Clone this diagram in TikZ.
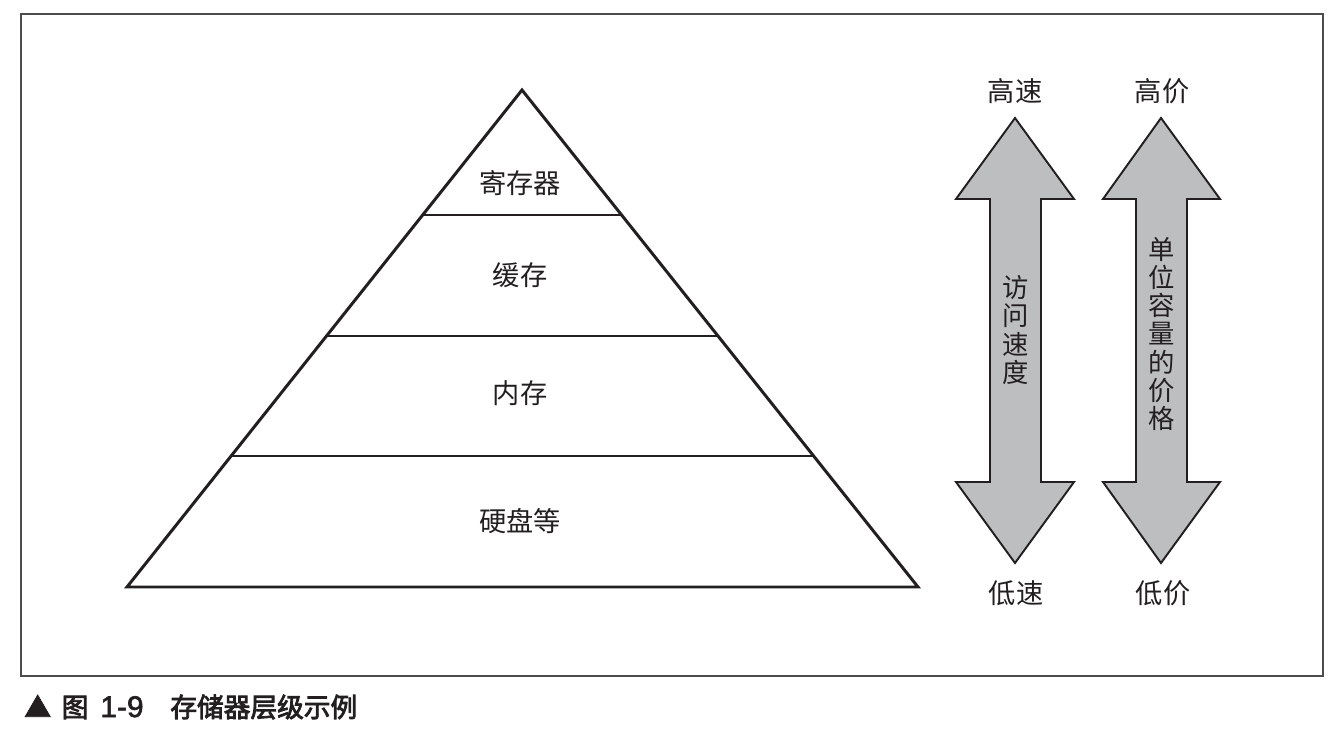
\documentclass[tikz,border=0pt]{standalone}
\usepackage{fontspec}
\setmainfont{Noto Sans CJK SC}
\newfontfamily\capfont[BoldFont={Noto Sans CJK SC},BoldFeatures={FakeBold=3}]{Noto Sans CJK SC}
\newfontfamily\capnum[BoldFont={Liberation Sans},BoldFeatures={FakeBold=2}]{Liberation Sans}
\definecolor{txt}{HTML}{231F20}
\definecolor{arrowgray}{HTML}{BDBEC0}

\begin{document}
\begin{tikzpicture}
  [x=0.02cm,y=-0.02cm,
   every node/.style={font=\fontsize{15.5}{16}\selectfont,text=txt},
   pyr/.style={line width=1.7pt,draw=txt},
   dbl/.style={draw=txt,line width=1.1pt,fill=arrowgray,line join=miter},
   vtext/.style={align=center,inner sep=0pt,font=\fontsize{15}{16}\selectfont}]
  \useasboundingbox (0,0) rectangle (1340,740);
  \draw[black!70,line width=0.6pt] (21,14) rectangle (1323,676);
  % pyramid
  \coordinate (top) at (522,90);
  \coordinate (bl) at (127,587);
  \coordinate (br) at (918,587);
  \draw[pyr,line join=miter] (top) -- (bl) -- (br) -- cycle;
  \draw[pyr] (423,215) -- (621,215);
  \draw[pyr] (326,336) -- (718,336);
  \draw[pyr] (231,456) -- (813,456);
  \node (reg) at (520,183) {寄存器};
  \node (cache) at (520,275) {缓存};
  \node (mem) at (520,393) {内存};
  \node (disk) at (520,521) {硬盘等};
  % speed arrow
  \draw[dbl] (1015,118) -- (1074,199) -- (1041,199) -- (1041,482) -- (1074,482)
    -- (1015,563) -- (956,482) -- (990,482) -- (990,199) -- (956,199) -- cycle;
  \node (fast) at (1015,91) {高速};
  \node (slow) at (1016,593) {低速};
  \node[vtext] (speed) at (1016,330) {访\\问\\速\\度};
  % price arrow
  \draw[dbl] (1161,118) -- (1220,199) -- (1187,199) -- (1187,482) -- (1220,482)
    -- (1161,563) -- (1103,482) -- (1136,482) -- (1136,199) -- (1103,199) -- cycle;
  \node (hiprice) at (1162,91) {高价};
  \node (loprice) at (1163,593) {低价};
  \node[vtext] (price) at (1162,334) {单\\位\\容\\量\\的\\价\\格};
  % caption
  \node[anchor=west,inner sep=0pt,font=\fontsize{15.2}{16}\capfont\bfseries] (cap)
    at (24,707) {▲\hspace{0.4em}图\hspace{0.45em}{\capnum\bfseries\fontsize{17}{17}\selectfont 1-9}\hspace{1.0em}存储器层级示例};
\end{tikzpicture}
\end{document}
